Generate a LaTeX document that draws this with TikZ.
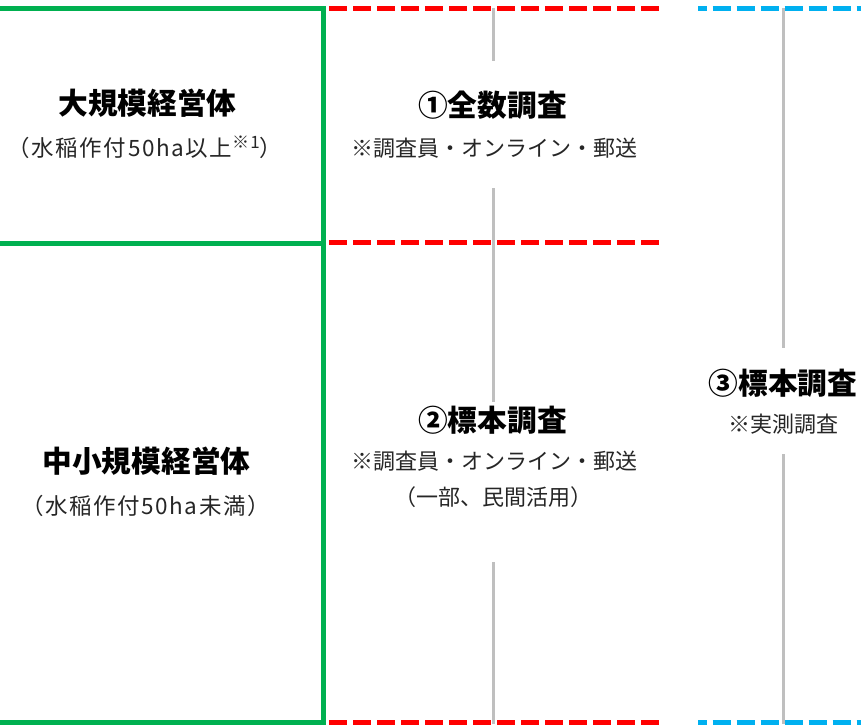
\documentclass[tikz,border=0pt]{standalone}
\usepackage{fontspec}
\newfontfamily\jp{Noto Sans CJK JP}
\newfontfamily\jpwide[LetterSpace=7]{Noto Sans CJK JP}
\definecolor{grn}{HTML}{00B050}
\definecolor{rd}{HTML}{FF0000}
\definecolor{bl}{HTML}{00B0F0}
\definecolor{gry}{HTML}{BFBFBF}
\definecolor{subtxt}{HTML}{262626}
\tikzset{
  greenline/.style={draw=grn, line width=5pt},
  redline/.style={draw=rd, line width=4.5pt, dash pattern=on 18pt off 6pt},
  blueline/.style={draw=bl, line width=4.5pt, dash pattern=on 18pt off 6pt, dash phase=9.5pt},
  grayline/.style={draw=gry, line width=2.5pt},
  ttl/.style={font=\jp\bfseries\fontsize{29.7}{31}\selectfont, anchor=base, inner sep=0pt},
  sub/.style={font=\jp\fontsize{22}{24}\selectfont, text=subtxt, anchor=base, inner sep=0pt},
  subw/.style={font=\jpwide\fontsize{22.5}{24}\selectfont, text=subtxt, anchor=base, inner sep=0pt},
  gap/.style={draw=none, inner sep=0pt, outer sep=0pt, minimum width=1pt}
}
\begin{document}
\begin{tikzpicture}[x=1pt, y=-1pt]
\useasboundingbox (0,0) rectangle (861,724);
\fill[white] (0,0) rectangle (861,724);

% gap nodes for the gray lines
\node[gap, minimum height=127pt] (g1) at (493.3,124.5) {};
\node[gap, minimum height=160pt] (g2) at (493.3,482) {};
\node[gap, minimum height=106pt] (g3) at (783.3,401) {};

\coordinate (r1) at (493.3,8.3);
\coordinate (r3) at (493.3,724);
\coordinate (b1) at (783.3,8.3);
\coordinate (b2) at (783.3,724);

% gray lines
\draw[grayline] (r1) -- (g1.north);
\draw[grayline] (g1.south) -- (g2.north);
\draw[grayline] (g2.south) -- (r3);
\draw[grayline] (b1) -- (g3.north);
\draw[grayline] (g3.south) -- (b2);

% green frame
\coordinate (gtl) at (0,8.5);
\coordinate (gtr) at (326,8.5);
\coordinate (gml) at (0,243);
\coordinate (gmr) at (326,243);
\coordinate (gbl) at (0,722);
\coordinate (gbr) at (326,722);
\coordinate (gvt) at (323.5,6);
\coordinate (gvb) at (323.5,724);
\draw[greenline] (gtl) -- (gtr);
\draw[greenline] (gml) -- (gmr);
\draw[greenline] (gbl) -- (gbr);
\draw[greenline] (gvt) -- (gvb);

% red dashed lines
\coordinate (rt1) at (329,8.3);   \coordinate (rt2) at (659,8.3);
\coordinate (rm1) at (329,242.5); \coordinate (rm2) at (659,242.5);
\coordinate (rb1) at (329,722.5); \coordinate (rb2) at (659,722.5);
\draw[redline] (rt1) -- (rt2);
\draw[redline] (rm1) -- (rm2);
\draw[redline] (rb1) -- (rb2);

% blue dashed lines
\coordinate (bt1) at (698,8.3);   \coordinate (bt2) at (861,8.3);
\coordinate (bb1) at (698,722.5); \coordinate (bb2) at (861,722.5);
\draw[blueline] (bt1) -- (bt2);
\draw[blueline] (bb1) -- (bb2);

% texts
\node[ttl] (large) at (147.5,114) {大規模経営体};
\node[subw] (largesub) at (145,156) {（水稲作付50ha以上\raisebox{8pt}{\fontsize{17}{17}\selectfont ※1}）};
\node[ttl] (small) at (146.5,472) {中小規模経営体};
\node[subw] (smallsub) at (145.5,514) {（水稲作付50ha未満）};

\node[ttl] (s1) at (492.5,116) {①全数調査};
\node[sub] (s1sub) at (494.5,156) {※調査員・オンライン・郵送};

\node[ttl] (s2) at (492.5,431) {②標本調査};
\node[sub] (s2sub) at (494.5,469) {※調査員・オンライン・郵送};
\node[sub] (s2sub2) at (493,505) {（一部、民間活用）};

\node[ttl] (s3) at (783,394) {③標本調査};
\node[sub] (s3sub) at (783.5,432) {※実測調査};
\end{tikzpicture}
\end{document}
